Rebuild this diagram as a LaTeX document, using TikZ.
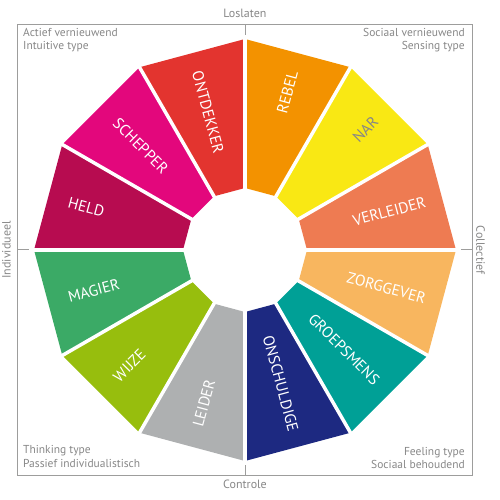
\documentclass[tikz,border=0pt]{standalone}
\usepackage{fontspec}
\setmainfont{PT Sans}
\definecolor{cOnt}{HTML}{E3342F}
\definecolor{cReb}{HTML}{F39200}
\definecolor{cNar}{HTML}{F9E814}
\definecolor{cVer}{HTML}{EE7B52}
\definecolor{cZor}{HTML}{F8B65F}
\definecolor{cGro}{HTML}{00A096}
\definecolor{cOns}{HTML}{1D2981}
\definecolor{cLei}{HTML}{AEB0B1}
\definecolor{cWij}{HTML}{97BE0D}
\definecolor{cMag}{HTML}{3BAA66}
\definecolor{cHel}{HTML}{B70C50}
\definecolor{cSch}{HTML}{E3077C}
\definecolor{txtgrey}{HTML}{878787}
\definecolor{framegrey}{HTML}{9D9D9C}
\begin{document}
\begin{tikzpicture}[x=1pt,y=1pt,
  lab/.style={inner sep=0pt, text=white, font=\fontsize{15.5}{18}\selectfont},
  corner/.style={inner sep=0pt, text=txtgrey, font=\fontsize{11.5}{13}\selectfont},
  axislab/.style={inner sep=0pt, text=txtgrey, font=\fontsize{12}{14}\selectfont},
  gapline/.style={white, line width=3.5pt},
  tickline/.style={framegrey, line width=1pt}]
\useasboundingbox (0,0) rectangle (500,500);
\coordinate (C) at (245,250);
% frame
\draw[framegrey, line width=1pt] (17.3,24) rectangle (472,475.7);
% segments
\begin{scope}[shift={(245,250)}]
\foreach \a/\c in {90/cOnt,60/cReb,30/cNar,0/cVer,-30/cZor,-60/cGro,-90/cOns,-120/cLei,-150/cWij,180/cMag,150/cHel,120/cSch}
  \fill[\c] (\a:62) -- (\a:211) -- ({\a+30}:211) -- ({\a+30}:62) -- cycle;
\foreach \a in {0,30,...,330}
  \draw[gapline] (\a:55) -- (\a:216);
\end{scope}
% labels
\node[lab, rotate=-75, anchor=west] (ont) at ([shift={(105:185)}]C) {ONTDEKKER};
\node[lab, rotate=75, anchor=east] (reb) at ([shift={(75:185)}]C) {REBEL};
\node[lab, rotate=45, anchor=east, text=txtgrey] (nar) at ([shift={(45:185)}]C) {NAR};
\node[lab, rotate=15, anchor=east] (ver) at ([shift={(15:187)}]C) {VERLEIDER};
\node[lab, rotate=-15, anchor=east] (zor) at ([shift={(-15:187)}]C) {ZORGGEVER};
\node[lab, rotate=-45, anchor=east] (gro) at ([shift={(-45:187)}]C) {GROEPSMENS};
\node[lab, rotate=-75, anchor=east] (ons) at ([shift={(-75:188)}]C) {ONSCHULDIGE};
\node[lab, rotate=75, anchor=west] (lei) at ([shift={(-105:183)}]C) {LEIDER};
\node[lab, rotate=45, anchor=west] (wij) at ([shift={(-135:183)}]C) {WIJZE};
\node[lab, rotate=15, anchor=west] (mag) at ([shift={(-165:183)}]C) {MAGIER};
\node[lab, rotate=-15, anchor=west] (hel) at ([shift={(165:183)}]C) {HELD};
\node[lab, rotate=-45, anchor=west] (sch) at ([shift={(135:183)}]C) {SCHEPPER};
% ticks
\coordinate (tTop) at (245,475.7);
\coordinate (tTopE) at (245,465);
\coordinate (tBot) at (245,24);
\coordinate (tBotE) at (245,35);
\coordinate (tLeft) at (17.3,250);
\coordinate (tLeftE) at (29,250);
\coordinate (tRight) at (472,250);
\coordinate (tRightE) at (460.7,250);
\draw[tickline] (tTop) -- (tTopE);
\draw[tickline] (tBot) -- (tBotE);
\draw[tickline] (tLeft) -- (tLeftE);
\draw[tickline] (tRight) -- (tRightE);
% axis labels
\node[axislab, anchor=base] (los) at (245,482) {Loslaten};
\node[axislab, anchor=base] (con) at (245,12) {Controle};
\node[axislab, rotate=90] (ind) at (6.5,250) {Individueel};
\node[axislab, rotate=-90] (col) at (480.5,250) {Collectief};
% corner texts
\node[corner, anchor=base west] (tl1) at (23,463.3) {Actief vernieuwend};
\node[corner, anchor=base west] (tl2) at (23,450) {Intuitive type};
\node[corner, anchor=base east] (tr1) at (465,463.3) {Sociaal vernieuwend};
\node[corner, anchor=base east] (tr2) at (465,450) {Sensing type};
\node[corner, anchor=base west] (bl1) at (23,46) {Thinking type};
\node[corner, anchor=base west] (bl2) at (23,32) {Passief individualistisch};
\node[corner, anchor=base east] (br1) at (465,44) {Feeling type};
\node[corner, anchor=base east] (br2) at (465,31) {Sociaal behoudend};
\end{tikzpicture}
\end{document}
